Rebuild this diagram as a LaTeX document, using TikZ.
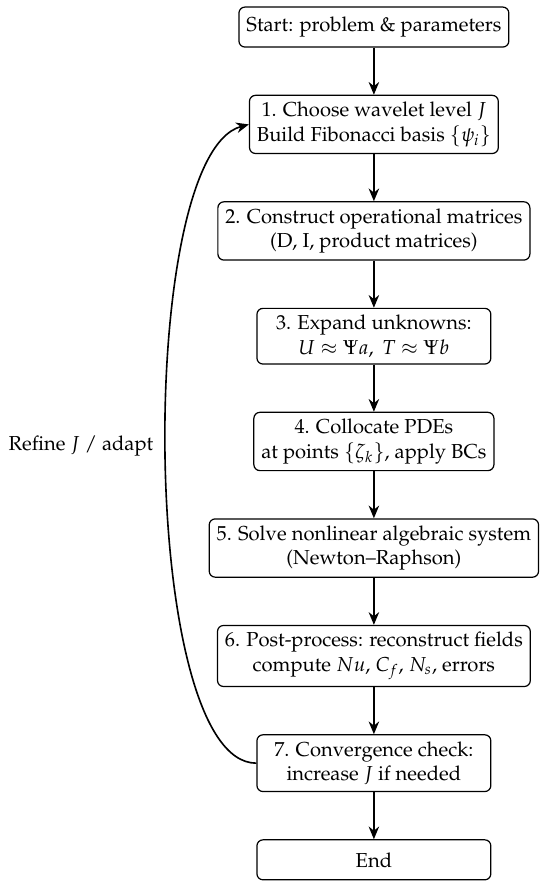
\documentclass[tikz,border=0pt]{standalone}
\usepackage[T1]{fontenc}
\usepackage{mathpazo}
\usetikzlibrary{arrows.meta, positioning}
\tikzstyle{stage} = [rectangle, rounded corners=3pt, minimum width=115.8pt, minimum height=19.8pt, inner xsep=3.7pt, inner ysep=3.4pt, align=center, draw=black, semithick, fill=white]
\tikzstyle{arrow} = [thick,->,>={Stealth[length=6.3pt,width=5.2pt]}]

\begin{document}
\begin{tikzpicture}[node distance=23.3pt]
    \useasboundingbox (-185.1pt,13.4pt) rectangle (87.1pt,-427.7pt);
    % Nodes
    \node (start) [stage] at (0,0) {Start: problem \& parameters};
    \node (basis) [stage, below=of start] {1. Choose wavelet level $J$\\Build Fibonacci basis $\{\psi_i\}$};
    \node (matrices) [stage, below=of basis] {2. Construct operational matrices\\(D, I, product matrices)};
    \node (expand) [stage, below=of matrices] {3. Expand unknowns:\\$U \approx \Psi a,\ T \approx \Psi b$};
    \node (collocate) [stage, below=of expand] {4. Collocate PDEs\\at points $\{\zeta_k\}$, apply BCs};
    \node (solve) [stage, below=of collocate] {5. Solve nonlinear algebraic system\\(Newton--Raphson)};
    \node (post) [stage, below=of solve] {6. Post-process: reconstruct fields\\compute $Nu$, $C_f$, $N_s$, errors};
    \node (conv) [stage, below=of post] {7. Convergence check:\\increase $J$ if needed};
    \node (end) [stage, below=of conv] {End};

    % Arrows
    \draw [arrow] (start) -- (basis);
    \draw [arrow] (basis) -- (matrices);
    \draw [arrow] (matrices) -- (expand);
    \draw [arrow] (expand) -- (collocate);
    \draw [arrow] (collocate) -- (solve);
    \draw [arrow] (solve) -- (post);
    \draw [arrow] (post) -- (conv);
    \draw [arrow] (conv) -- (end);
    \draw [arrow] (conv.west) to[out=180, in=195, looseness=0.47] node[left, pos=0.51, xshift=-2.5pt] {Refine $J$ / adapt} (basis.west);
\end{tikzpicture}
\end{document}
